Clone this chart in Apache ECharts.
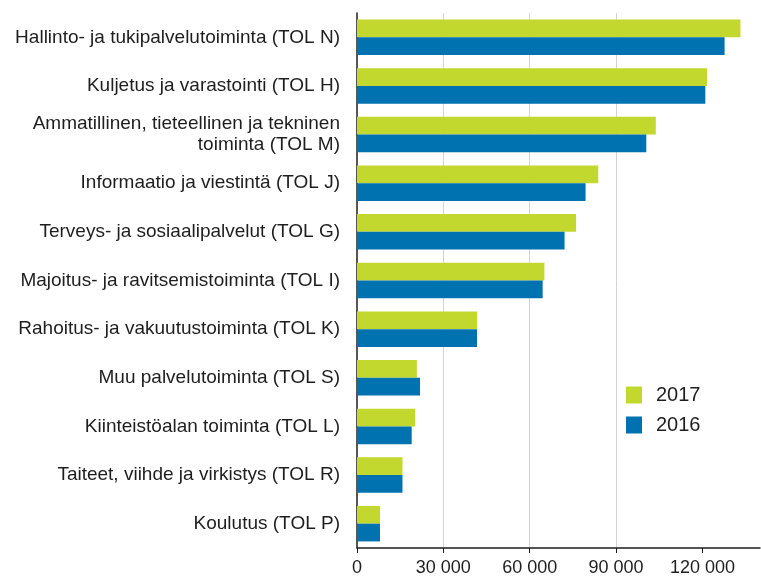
<!DOCTYPE html>
<html>
<head>
<meta charset="utf-8">
<script src="https://cdn.jsdelivr.net/npm/echarts@6/dist/echarts.min.js"></script>
<style>
  html, body { margin: 0; padding: 0; background: #fff; }
  #main { width: 761px; height: 580px; }
</style>
</head>
<body>
<div id="main"></div>
<script>
// toimialat, ylhäältä alas
var categories = [
  "Hallinto- ja tukipalvelutoiminta (TOL N)",
  "Kuljetus ja varastointi (TOL H)",
  "Ammatillinen, tieteellinen ja tekninen\ntoiminta (TOL M)",
  "Informaatio ja viestintä (TOL J)",
  "Terveys- ja sosiaalipalvelut (TOL G)",
  "Majoitus- ja ravitsemistoiminta (TOL I)",
  "Rahoitus- ja vakuutustoiminta (TOL K)",
  "Muu palvelutoiminta (TOL S)",
  "Kiinteistöalan toiminta (TOL L)",
  "Taiteet, viihde ja virkistys (TOL R)",
  "Koulutus (TOL P)"
];
var values2017 = [133200, 121600, 103800, 83800, 76100, 65100, 41700, 20800, 20200, 15800, 8000];
var values2016 = [127700, 121000, 100500, 79400, 72100, 64500, 41700, 21900, 19000, 15800, 8000];
var xTicks = [0, 30000, 60000, 90000, 120000];

var chart = echarts.init(document.getElementById("main"));

var fmt = function (v) {
  // välilyönti tuhaterottimena
  return String(v).replace(/\B(?=(\d{3})+(?!\d))/g, " ");
};

var option = {
  animation: false,
  textStyle: { fontFamily: "Liberation Sans, Arial, sans-serif" },
  grid: { left: 357, right: 1, top: 13, bottom: 32 },
  legend: {
    orient: "vertical",
    left: 626,
    top: 385,
    padding: 0,
    icon: "rect",
    itemWidth: 16,
    itemHeight: 17,
    itemGap: 10,
    data: ["2017", "2016"],
    textStyle: { fontSize: 20, color: "#1e1e1e", padding: [0, 0, 0, 9] }
  },
  xAxis: {
    type: "value",
    min: 0,
    max: 140000,
    interval: 30000,
    axisLine: { show: true, lineStyle: { color: "#1e1e1e", width: 1.5 } },
    axisTick: { show: true, length: 5, customValues: xTicks, lineStyle: { color: "#1e1e1e" } },
    axisLabel: {
      fontSize: 18,
      color: "#1e1e1e",
      margin: 11,
      customValues: xTicks,
      formatter: function (v) {
        return fmt(v);
      }
    },
    splitLine: {
      show: true,
      showMinLine: false,
      showMaxLine: false,
      lineStyle: { color: "#d4d4d4", width: 1 }
    }
  },
  yAxis: {
    type: "category",
    inverse: true,
    data: categories,
    axisLine: { show: true, lineStyle: { color: "#1e1e1e", width: 1.5 } },
    axisTick: { show: false },
    axisLabel: { fontSize: 19, color: "#1e1e1e", margin: 17, lineHeight: 21 }
  },
  series: [
    {
      name: "2017",
      type: "bar",
      data: values2017,
      barGap: "0%",
      barCategoryGap: "27%",
      itemStyle: { color: "#c2d82f" }
    },
    {
      name: "2016",
      type: "bar",
      data: values2016,
      itemStyle: { color: "#0072b0" }
    }
  ]
};

chart.setOption(option);
window.onresize = function () {
  chart.resize();
};
</script>
</body>
</html>
